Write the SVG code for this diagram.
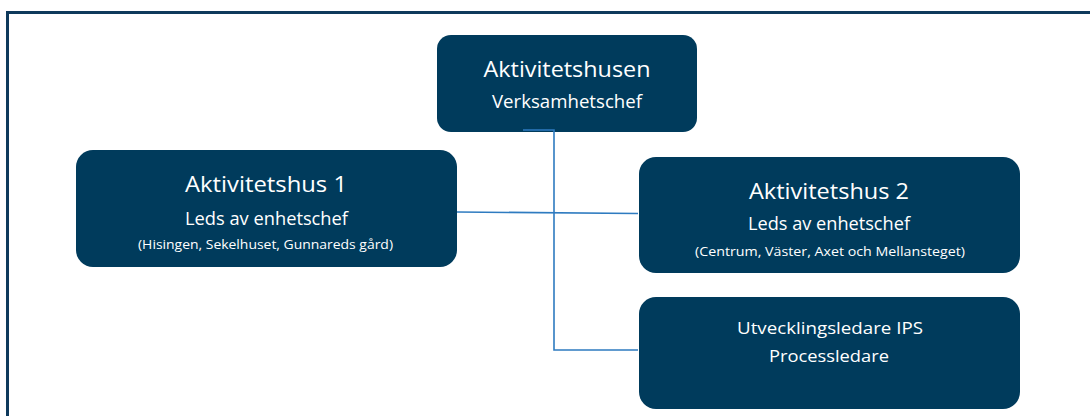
<svg xmlns="http://www.w3.org/2000/svg" width="1090" height="416" viewBox="0 0 1090 416">
<style>
.node{fill:#003B5C;}
.t{font-family:"Open Sans","Noto Sans","Liberation Sans",sans-serif;fill:#FFFFFF;text-anchor:middle;}
.big{font-size:22px;}
.mid{font-size:18px;}
.sm{font-size:13px;}
.u{font-size:17px;}
.conn{fill:none;stroke:#2E7BC0;stroke-width:1.6;}
</style>
<rect x="0" y="0" width="1090" height="416" fill="#FFFFFF"/>
<rect x="7.5" y="12.5" width="1100" height="420" fill="none" stroke="#0E3A5C" stroke-width="3"/>
<g id="node-aktivitetshusen">
<rect class="node" x="437" y="35" width="260" height="97" rx="14"/>
<text class="t big" x="567" y="77" textLength="167" lengthAdjust="spacingAndGlyphs">Aktivitetshusen</text>
<text class="t mid" x="567" y="108" textLength="150" lengthAdjust="spacingAndGlyphs">Verksamhetschef</text>
</g>
<g id="node-aktivitetshus1">
<rect class="node" x="76" y="150" width="381" height="117" rx="17"/>
<text class="t big" x="266" y="192" textLength="162" lengthAdjust="spacingAndGlyphs">Aktivitetshus 1</text>
<text class="t mid" x="266.5" y="225" textLength="163" lengthAdjust="spacingAndGlyphs">Leds av enhetschef</text>
<text class="t sm" x="265.5" y="248.5" textLength="255" lengthAdjust="spacingAndGlyphs">(Hisingen, Sekelhuset, Gunnareds gård)</text>
</g>
<g id="node-aktivitetshus2">
<rect class="node" x="639" y="157" width="381" height="116" rx="17"/>
<text class="t big" x="829" y="199" textLength="160" lengthAdjust="spacingAndGlyphs">Aktivitetshus 2</text>
<text class="t mid" x="829" y="230" textLength="162" lengthAdjust="spacingAndGlyphs">Leds av enhetschef</text>
<text class="t sm" x="830" y="255.5" textLength="270" lengthAdjust="spacingAndGlyphs">(Centrum, Väster, Axet och Mellansteget)</text>
</g>
<g id="node-utvecklingsledare">
<rect class="node" x="639" y="297" width="381" height="112" rx="17"/>
<text class="t u" x="830" y="334" textLength="186" lengthAdjust="spacingAndGlyphs">Utvecklingsledare IPS</text>
<text class="t u" x="829" y="362" textLength="120" lengthAdjust="spacingAndGlyphs">Processledare</text>
</g>
<g id="connectors">
<path class="conn" d="M523,130 H554 V350 H638"/>
<path class="conn" d="M457,212 L638,213.5"/>
</g>
</svg>
